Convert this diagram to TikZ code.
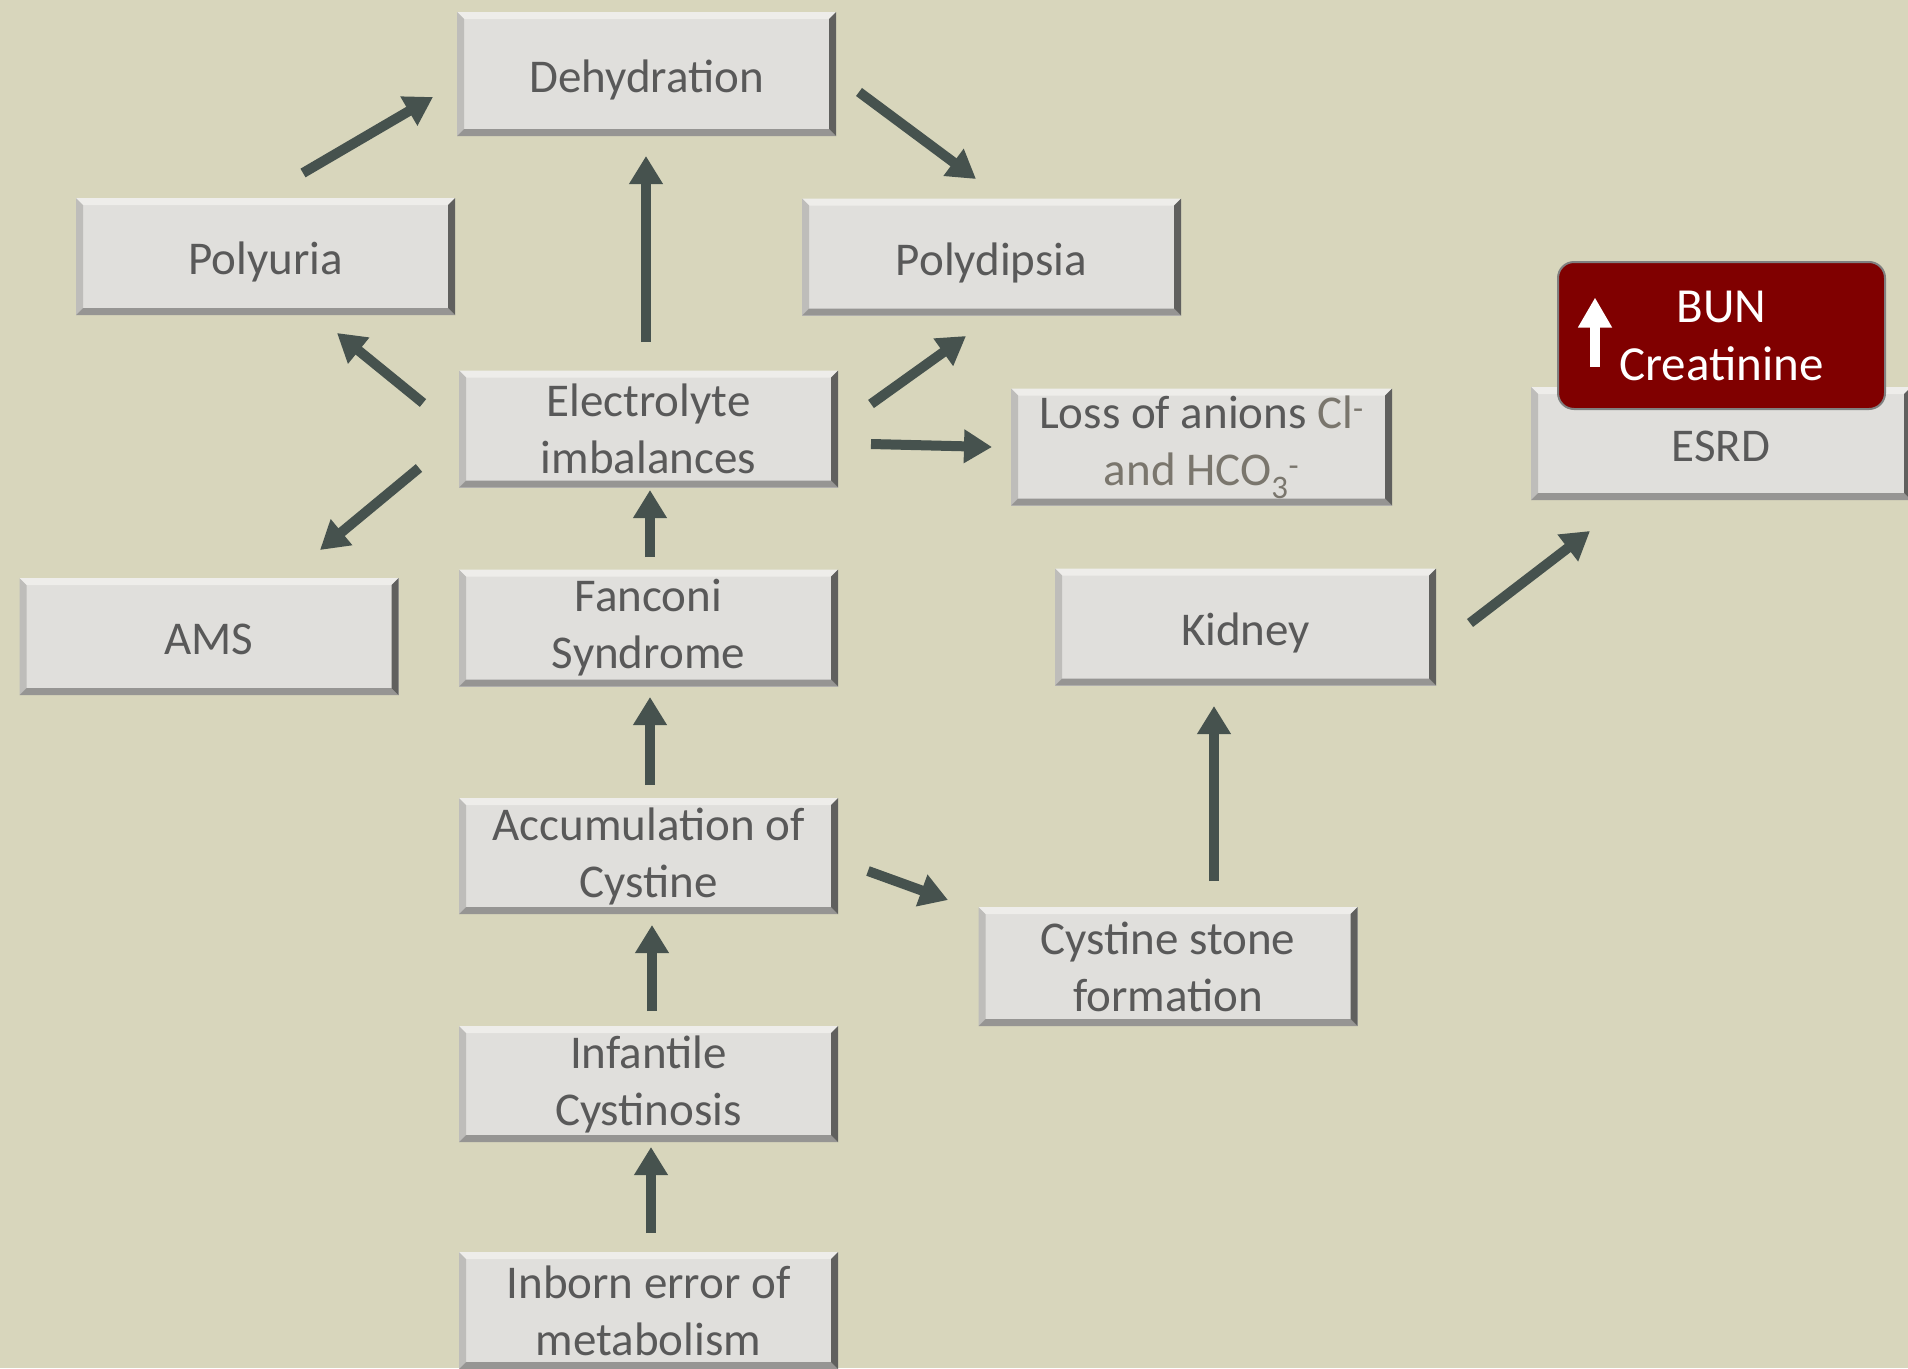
\documentclass[tikz,border=0pt]{standalone}
\usepackage{fontspec}
\setmainfont{Carlito}
\usetikzlibrary{arrows.meta}

\definecolor{bgc}{RGB}{216,214,188}
\definecolor{boxc}{RGB}{224,223,220}
\definecolor{txtc}{RGB}{89,89,89}
\definecolor{lightc}{RGB}{122,118,109}
\definecolor{arrc}{RGB}{70,82,78}
\definecolor{bunc}{RGB}{128,0,0}
\definecolor{bvtop}{RGB}{238,237,234}
\definecolor{bvleft}{RGB}{190,189,186}
\definecolor{bvbot}{RGB}{150,149,147}
\definecolor{bvright}{RGB}{96,96,94}

\tikzset{
  card/.style={fill=boxc, text=txtc, minimum width=379pt, minimum height=117pt,
    inner sep=0pt, align=center, font=\fontsize{47}{57}\selectfont,
    path picture={
      \path (path picture bounding box.north west) coordinate (pnw)
            (path picture bounding box.south east) coordinate (pse);
      \fill[bvtop] (pnw) -- (pnw-|pse) -- ([shift={(-7pt,-7pt)}]pnw-|pse) -- ([shift={(7pt,-7pt)}]pnw) -- cycle;
      \fill[bvleft] (pnw) -- ([shift={(7pt,-7pt)}]pnw) -- ([shift={(7pt,7pt)}]pnw|-pse) -- (pnw|-pse) -- cycle;
      \fill[bvbot] (pnw|-pse) -- ([shift={(7pt,7pt)}]pnw|-pse) -- ([shift={(-7pt,7pt)}]pse) -- (pse) -- cycle;
      \fill[bvright] (pse) -- ([shift={(-7pt,7pt)}]pse) -- ([shift={(-7pt,-7pt)}]pnw-|pse) -- (pnw-|pse) -- cycle;
    }},
  oneline/.style={text height=45pt, text depth=9pt},
  flow/.style={draw=arrc, line width=10pt, -{Triangle[width=32pt,length=28pt,fill=arrc]}},
  bunbox/.style={fill=bunc, draw={rgb,255:red,128;green,128;blue,128}, line width=2pt,
    rounded corners=16pt, text=white, minimum width=327pt, minimum height=147pt,
    align=center, font=\fontsize{49}{58}\selectfont}
}

\begin{document}
\begin{tikzpicture}[x=1pt,y=-1pt]
\fill[bgc] (0,0) rectangle (1908,1368);
\useasboundingbox (0,0) rectangle (1908,1368);

% boxes
\node[card, oneline, minimum height=124pt](dehy) at (646.5,74){Dehydration};
\node[card, oneline](polyuria) at (265.5,256.5){Polyuria};
\node[card, oneline](polydipsia) at (991.5,257){Polydipsia};
\node[card](ely) at (648.5,429){Electrolyte\\imbalances};
\node[card, minimum width=381pt](loss) at (1201.5,447){Loss of anions {\color{lightc}Cl\textsuperscript{-}}\\\color{lightc}and HCO\textsubscript{3}\textsuperscript{-}};
\node[card, oneline, minimum width=380pt, minimum height=113pt](esrd) at (1721,443.5){ESRD};
\node[bunbox](bun) at (1721.5,335.5){BUN\\Creatinine};
\node[card, oneline](ams) at (209,636.5){AMS};
\node[card](fanconi) at (648.5,628){Fanconi\\Syndrome};
\node[card, oneline, minimum width=381pt](kidney) at (1245.5,627){Kidney};
\node[card, minimum height=116pt](accum) at (648.5,856){Accumulation of\\Cystine};
\node[card, minimum height=119pt](stone) at (1168,966.5){Cystine stone\\formation};
\node[card, minimum height=116pt](infant) at (648.5,1084){Infantile\\Cystinosis};
\node[card](inborn) at (648.5,1310.5){Inborn error of\\metabolism};

% arrow ends
\coordinate (pu-out) at (303,173);   \coordinate (dehy-in) at (433,97);
\coordinate (dehy-out) at (859,92);  \coordinate (pd-in) at (976,179);
\coordinate (ely-up) at (646,342);   \coordinate (dehy-bot) at (646,156);
\coordinate (ely-nw) at (423,403);   \coordinate (pu-in) at (337,333);
\coordinate (ely-ne) at (871,404);   \coordinate (pd-bot) at (966,336);
\coordinate (ely-e) at (871,444);    \coordinate (loss-in) at (992,447);
\coordinate (ely-sw) at (419,468);   \coordinate (ams-in) at (320,550);
\coordinate (fan-up) at (650,557);   \coordinate (ely-bot) at (650,490);
\coordinate (acc-up) at (650,785);   \coordinate (fan-bot) at (650,697);
\coordinate (acc-e) at (868,871);    \coordinate (stone-in) at (948,900);
\coordinate (inf-up) at (652,1011);  \coordinate (acc-bot) at (652,925);
\coordinate (inb-up) at (651,1233);  \coordinate (inf-bot) at (651,1147);
\coordinate (stone-up) at (1214,881); \coordinate (kid-bot) at (1214,706);
\coordinate (kid-ne) at (1470,623);  \coordinate (esrd-in) at (1590,531);

% connectors
\draw[flow] (pu-out) -- (dehy-in);
\draw[flow] (dehy-out) -- (pd-in);
\draw[flow] (ely-up) -- (dehy-bot);
\draw[flow] (ely-nw) -- (pu-in);
\draw[flow] (ely-ne) -- (pd-bot);
\draw[flow] (ely-e) -- (loss-in);
\draw[flow] (ely-sw) -- (ams-in);
\draw[flow] (fan-up) -- (ely-bot);
\draw[flow] (acc-up) -- (fan-bot);
\draw[flow] (acc-e) -- (stone-in);
\draw[flow] (inf-up) -- (acc-bot);
\draw[flow] (inb-up) -- (inf-bot);
\draw[flow] (stone-up) -- (kid-bot);
\draw[flow] (kid-ne) -- (esrd-in);

% white rise arrow in the BUN box
\draw[white, line width=10pt, -{Triangle[width=32pt,length=30pt,fill=white]}]
  ([shift={(38pt,-31pt)}]bun.west) -- ([shift={(38pt,38pt)}]bun.west);
\end{tikzpicture}
\end{document}
